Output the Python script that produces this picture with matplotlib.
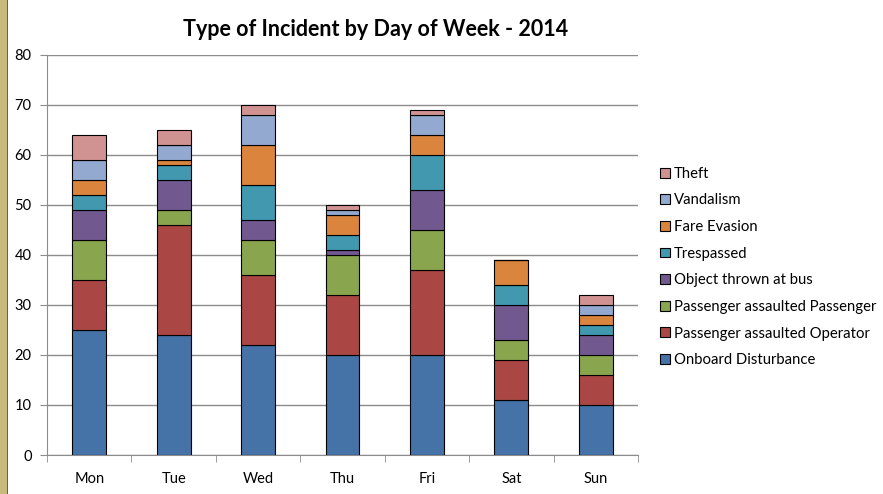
import matplotlib.pyplot as plt
import numpy as np
from matplotlib.patches import Rectangle

days = ['Mon', 'Tue', 'Wed', 'Thu', 'Fri', 'Sat', 'Sun']
onboard = [25, 24, 22, 20, 20, 11, 10]
assault_op = [10, 22, 14, 12, 17, 8, 6]
assault_pass = [8, 3, 7, 8, 8, 4, 4]
thrown = [6, 6, 4, 1, 8, 7, 4]
trespassed = [3, 3, 7, 3, 7, 4, 2]
fare_evasion = [3, 1, 8, 4, 4, 5, 2]
vandalism = [4, 3, 6, 1, 4, 0, 2]
theft = [5, 3, 2, 1, 1, 0, 2]

series = [
    ('Onboard Disturbance', onboard, '#4572A7'),
    ('Passenger assaulted Operator', assault_op, '#AA4643'),
    ('Passenger assaulted Passenger', assault_pass, '#89A54E'),
    ('Object thrown at bus', thrown, '#71588F'),
    ('Trespassed', trespassed, '#4198AF'),
    ('Fare Evasion', fare_evasion, '#DB843D'),
    ('Vandalism', vandalism, '#93A9CF'),
    ('Theft', theft, '#D19392'),
]

plt.rcParams['font.family'] = ['Lato', 'DejaVu Sans']

fig = plt.figure(figsize=(8.83, 4.94), dpi=100)
ax = fig.add_axes([47/883, 1 - 455/494, (638-47)/883, 400/494])

x = np.arange(len(days))
bottom = np.zeros(len(days))
handles = []
for name, vals, col in series:
    vals = np.array(vals, dtype=float)
    b = ax.bar(x, vals, 0.4, bottom=bottom, color=col, edgecolor='black',
               linewidth=0.8, label=name, zorder=3)
    handles.append(b)
    bottom += vals

ax.set_xlim(-0.5, len(days) - 0.5)
ax.set_ylim(0, 80)
ax.set_yticks(range(0, 81, 10))
ax.yaxis.grid(True, color='#8c8c8c', linewidth=1, zorder=0)
ax.set_xticks(x)
ax.set_xticklabels(days)
ax.set_xticks(np.arange(-0.5, len(days), 1), minor=True)
ax.tick_params(axis='x', which='major', length=0, pad=12, labelsize=10.5)
ax.tick_params(axis='x', which='minor', length=5, color='#8c8c8c', direction='out')
ax.tick_params(axis='y', length=5, color='#8c8c8c', labelsize=10.5, pad=6)
for s in ['top', 'right']:
    ax.spines[s].set_visible(False)
for s in ['left', 'bottom']:
    ax.spines[s].set_color('#8c8c8c')

fig.text(376/883, 1 - 30/494, 'Type of Incident by Day of Week - 2014',
         ha='center', va='center', fontsize=15.5, fontweight='bold')

leg = fig.legend(handles[::-1], [s[0] for s in series][::-1],
                 loc='center left', bbox_to_anchor=(660/883, 1 - 267/494),
                 frameon=False, fontsize=10.7, handlelength=0.65, handleheight=0.65,
                 handletextpad=0.3, labelspacing=0.85, borderaxespad=0,
                 borderpad=0)

# tan border strip on the left edge
fig.patches.append(Rectangle((0, 0), 7/883, 1, transform=fig.transFigure,
                             facecolor='#C9B97C', edgecolor='none'))
fig.patches.append(Rectangle((7/883, 0), 1.5/883, 1, transform=fig.transFigure,
                             facecolor='#6b6040', edgecolor='none'))

fig.savefig('out.png', dpi=100)
